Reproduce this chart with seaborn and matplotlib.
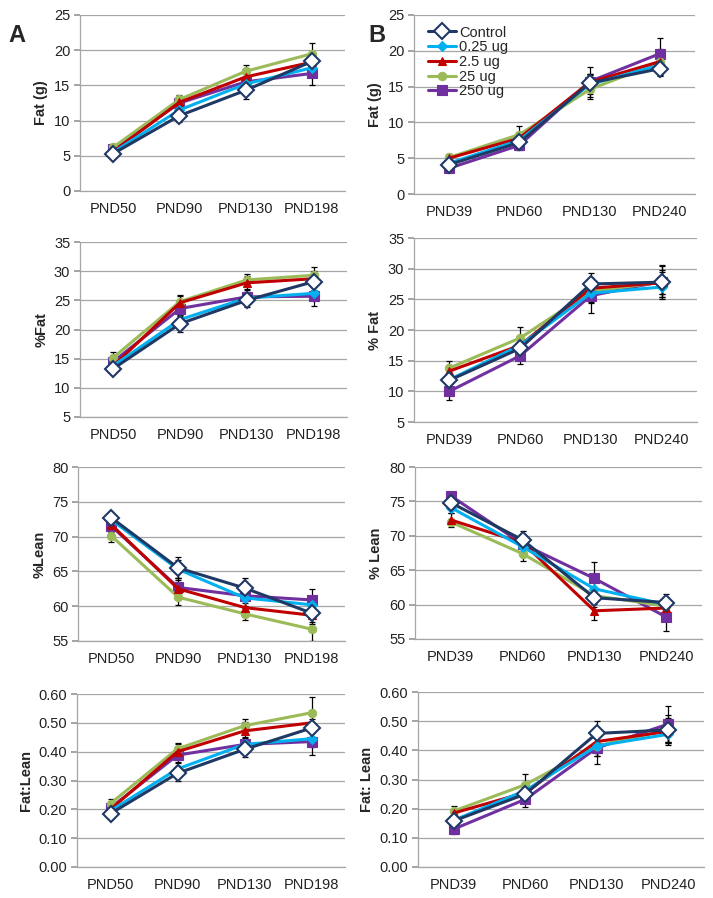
import numpy as np
import pandas as pd
import matplotlib
matplotlib.use("Agg")
from matplotlib import pyplot as plt
import seaborn as sns

doses = ["Control", "0.25 ug", "2.5 ug", "25 ug", "250 ug"]
ages_a = ["PND50", "PND90", "PND130", "PND198"]
ages_b = ["PND39", "PND60", "PND130", "PND240"]

# ---- means, one row per dose ----
fat_a = [[5.3, 10.7, 14.3, 18.4],
         [5.5, 11.5, 15.2, 17.5],
         [5.6, 12.6, 16.2, 18.3],
         [6.2, 13.0, 17.0, 19.5],
         [5.9, 12.5, 15.5, 16.7]]
fat_b = [[4.1, 7.2, 15.5, 17.5],
         [4.3, 7.5, 15.3, 18.0],
         [5.0, 7.8, 15.6, 18.5],
         [5.1, 8.3, 14.6, 18.4],
         [3.6, 6.8, 15.7, 19.6]]
pfat_a = [[13.3, 21.0, 25.0, 28.2],
          [13.8, 21.7, 25.4, 26.2],
          [13.8, 24.6, 28.0, 28.7],
          [15.2, 24.8, 28.5, 29.3],
          [14.5, 23.6, 25.6, 25.7]]
pfat_b = [[11.8, 17.0, 27.5, 27.8],
          [11.9, 17.5, 26.0, 27.0],
          [13.3, 17.5, 26.8, 27.7],
          [13.8, 18.7, 26.3, 27.8],
          [10.0, 15.8, 25.6, 27.9]]
lean_a = [[72.7, 65.5, 62.6, 59.0],
          [72.4, 65.3, 61.2, 60.2],
          [71.7, 62.5, 59.8, 58.7],
          [70.1, 61.3, 58.9, 56.7],
          [71.5, 62.7, 61.5, 60.9]]
lean_b = [[74.8, 69.4, 61.0, 60.3],
          [74.1, 68.4, 62.3, 60.0],
          [72.3, 69.0, 59.1, 59.5],
          [72.0, 67.4, 61.3, 59.8],
          [75.8, 68.8, 63.8, 58.2]]
ratio_a = [[0.185, 0.325, 0.408, 0.482],
           [0.195, 0.340, 0.425, 0.445],
           [0.200, 0.400, 0.472, 0.500],
           [0.220, 0.410, 0.490, 0.535],
           [0.205, 0.388, 0.425, 0.435]]
ratio_b = [[0.158, 0.250, 0.458, 0.470],
           [0.160, 0.262, 0.415, 0.455],
           [0.185, 0.255, 0.430, 0.465],
           [0.192, 0.282, 0.415, 0.470],
           [0.130, 0.232, 0.408, 0.490]]

# ---- SEM (error bars) ----
fat_a_se = [[0.5, 0.9, 1.2, 1.0], [0.5, 0.8, 0.8, 1.0], [0.5, 0.8, 0.9, 1.2],
            [0.5, 0.7, 0.9, 1.5], [0.5, 0.9, 0.9, 1.7]]
fat_b_se = [[0.5, 0.8, 1.2, 1.0], [0.5, 0.8, 1.3, 1.2], [0.5, 0.9, 1.1, 1.5],
            [0.5, 1.2, 1.3, 1.8], [0.4, 0.7, 2.1, 2.2]]
pfat_a_se = [[0.8, 1.5, 1.2, 1.4], [0.8, 1.3, 1.1, 1.2], [0.8, 1.2, 1.1, 1.3],
             [0.9, 1.2, 1.0, 1.5], [0.9, 1.3, 1.2, 1.7]]
pfat_b_se = [[1.0, 1.2, 1.8, 2.0], [1.0, 1.2, 1.6, 1.6], [1.0, 1.3, 1.7, 1.8],
             [1.1, 1.8, 1.8, 2.8], [1.4, 1.3, 2.8, 2.6]]
lean_a_se = [[0.6, 1.5, 1.4, 1.3], [0.6, 1.3, 1.1, 1.0], [0.7, 1.3, 1.0, 1.2],
             [0.9, 1.1, 0.9, 1.7], [0.8, 1.3, 1.0, 1.5]]
lean_b_se = [[0.8, 1.3, 1.4, 1.2], [0.8, 1.1, 1.3, 1.0], [1.0, 1.2, 1.3, 1.0],
             [0.5, 1.0, 1.2, 1.1], [0.6, 1.2, 2.4, 2.0]]
ratio_a_se = [[0.012, 0.025, 0.028, 0.030], [0.012, 0.022, 0.022, 0.030],
              [0.013, 0.025, 0.030, 0.035], [0.015, 0.020, 0.025, 0.053],
              [0.013, 0.025, 0.025, 0.045]]
ratio_b_se = [[0.015, 0.025, 0.044, 0.042], [0.015, 0.025, 0.035, 0.030],
              [0.015, 0.025, 0.040, 0.040], [0.018, 0.036, 0.035, 0.050],
              [0.018, 0.027, 0.056, 0.063]]

colors = ["#1F3864", "#00B0F0", "#C00000", "#9BBB59", "#7030A0"]
markers = ["D", "D", "^", "o", "s"]
msizes = [8, 5, 6, 6, 6.5]
faces = ["white", "#00B0F0", "#C00000", "#9BBB59", "#7030A0"]

sns.set_theme(style="white")
plt.rcParams["font.family"] = ["Liberation Sans", "DejaVu Sans"]

fig = plt.figure(figsize=(7.13, 8.98), dpi=100)
W, H = 713.0, 898.0


def make_ax(l, r, t, b):
    return fig.add_axes([l / W, 1 - b / H, (r - l) / W, (b - t) / H])


def panel(ax, ages, means, sems, ylabel, ylim, yticks, fmt, legend=False):
    rows = []
    for d, m, s in zip(doses, means, sems):
        for i, a in enumerate(ages):
            rows.append({"dose": d, "pos": i, "age": a, "mean": m[i], "sem": s[i]})
    df = pd.DataFrame(rows)
    for k, d in enumerate(doses):
        sub = df[df["dose"] == d]
        ax.errorbar(sub["pos"], sub["mean"], yerr=sub["sem"], fmt="none",
                    ecolor="black", elinewidth=0.9, capsize=2.5, capthick=0.9, zorder=2)
        sns.lineplot(data=sub, x="pos", y="mean", ax=ax, color=colors[k], lw=2.2,
                     marker=markers[k], markersize=msizes[k],
                     markerfacecolor=faces[k], markeredgecolor=colors[k],
                     markeredgewidth=1.5 if k == 0 else 0.8, label=d,
                     legend=False, zorder=3 + (5 - k) * 0.1)
    ax.set_xlim(-0.5, len(ages) - 0.5)
    ax.set_ylim(*ylim)
    ax.set_yticks(yticks)
    ax.set_yticklabels([fmt.format(v) for v in yticks], fontsize=10.5, color="#222222")
    ax.set_xticks(range(len(ages)))
    ax.set_xticklabels(ages, fontsize=10.5, color="#222222")
    ax.set_xticks(np.arange(-0.5, len(ages)), minor=True)
    ax.tick_params(axis="x", which="major", length=0, pad=8)
    ax.tick_params(axis="x", which="minor", length=4, color="#999999", direction="out")
    ax.tick_params(axis="y", length=4, color="#999999", direction="out", left=True, pad=3)
    ax.yaxis.grid(True, color="#A6A6A6", lw=0.9)
    ax.set_axisbelow(True)
    for sp in ["top", "right"]:
        ax.spines[sp].set_visible(False)
    for sp in ["left", "bottom"]:
        ax.spines[sp].set_color("#A6A6A6")
        ax.spines[sp].set_linewidth(0.9)
    ax.set_xlabel("")
    ax.set_ylabel(ylabel, fontsize=10.5, fontweight="bold", labelpad=4)
    if legend:
        ax.legend(loc="upper left", bbox_to_anchor=(0.02, 0.99), frameon=False,
                  fontsize=10.5, handlelength=1.9, handletextpad=0.2,
                  labelspacing=0.05, borderaxespad=0.2)


ax1 = make_ax(80, 345, 15, 191)
panel(ax1, ages_a, fat_a, fat_a_se, "Fat (g)", (0, 25), [0, 5, 10, 15, 20, 25], "{:.0f}")
ax2 = make_ax(414, 695, 15, 194)
panel(ax2, ages_b, fat_b, fat_b_se, "Fat (g)", (0, 25), [0, 5, 10, 15, 20, 25], "{:.0f}", legend=True)
ax3 = make_ax(80, 347, 242, 417)
panel(ax3, ages_a, pfat_a, pfat_a_se, "%Fat", (5, 35), [5, 10, 15, 20, 25, 30, 35], "{:.0f}")
ax4 = make_ax(414, 697, 238, 422)
panel(ax4, ages_b, pfat_b, pfat_b_se, "% Fat", (5, 35), [5, 10, 15, 20, 25, 30, 35], "{:.0f}")
ax5 = make_ax(78, 345, 467, 641)
panel(ax5, ages_a, lean_a, lean_a_se, "%Lean", (55, 80), [55, 60, 65, 70, 75, 80], "{:.0f}")
ax6 = make_ax(415, 702, 467, 639)
panel(ax6, ages_b, lean_b, lean_b_se, "% Lean", (55, 80), [55, 60, 65, 70, 75, 80], "{:.0f}")
ax7 = make_ax(77, 345, 694, 867)
panel(ax7, ages_a, ratio_a, ratio_a_se, "Fat:Lean", (0, 0.6), [0, 0.1, 0.2, 0.3, 0.4, 0.5, 0.6], "{:.2f}")
ax8 = make_ax(418, 704, 692, 867)
panel(ax8, ages_b, ratio_b, ratio_b_se, "Fat: Lean", (0, 0.6), [0, 0.1, 0.2, 0.3, 0.4, 0.5, 0.6], "{:.2f}")

fig.text(8 / W, 1 - 42 / H, "A", fontsize=17, fontweight="bold")
fig.text(368 / W, 1 - 42 / H, "B", fontsize=17, fontweight="bold")

fig.savefig("out.png", dpi=100)
